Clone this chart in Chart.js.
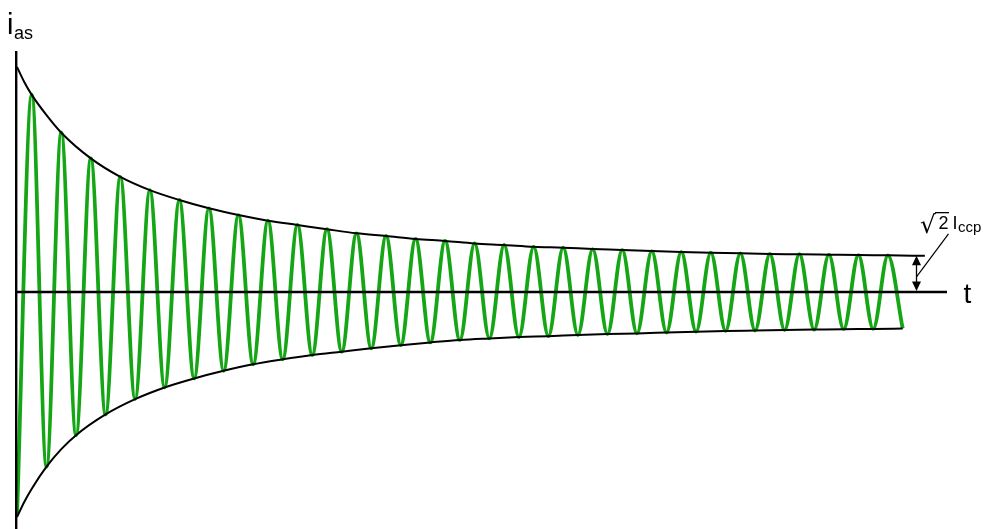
<!DOCTYPE html>
<html><head><meta charset="utf-8">
<script src="https://cdn.jsdelivr.net/npm/chart.js@4.4.1/dist/chart.umd.min.js"></script>
<style>html,body{margin:0;padding:0;background:#fff;overflow:hidden}canvas{display:block}</style>
</head><body>
<canvas id="c" width="983" height="529"></canvas>
<script>
// time of each current extremum (ms)
const extremaTime = [0,10,20,30,40,50,60,70,80,90,100,110,120,130,140,150,160,170,180,190,200,
  210,220,230,240,250,260,270,280,290,300,310,320,330,340,350,360,370,380,390,400,
  410,420,430,440,450,460,470,480,490,500,510,520,530,540,550,560,570,580,590,600];
// current value at each extremum (arbitrary units)
const extremaCurrent = [-9.92,8.76,-7.76,7.08,-6.36,5.94,-5.44,5.12,-4.76,4.53,-4.24,4.09,-3.84,3.72,-3.50,3.42,
  -3.21,3.17,-2.99,2.98,-2.80,2.79,-2.65,2.61,-2.50,2.49,-2.36,2.36,-2.24,2.27,-2.13,2.16,
  -2.06,2.09,-2.00,2.01,-1.96,1.97,-1.91,1.91,-1.87,1.87,-1.84,1.82,-1.80,1.78,-1.76,1.75,
  -1.73,1.72,-1.71,1.69,-1.69,1.68,-1.67,1.66,-1.65,1.64,-1.64,1.63,-1.62];
// upper envelope
const upperEnvTime = [0,5,10,20,30,50,70,90,110,130,150,170,190,210,230,250,270,290,310,330,350,370,390,
  410,430,450,470,490,510,530,550,570,590,615];
const upperEnvValue = [10.0,9.32,8.76,7.86,7.08,5.94,5.12,4.53,4.09,3.72,3.42,3.17,2.98,2.79,2.61,2.49,2.36,2.27,2.16,
  2.09,2.01,1.97,1.91,1.87,1.82,1.78,1.75,1.72,1.69,1.68,1.66,1.64,1.63,1.61];
// lower envelope
const lowerEnvTime = [0,5,10,20,30,40,60,80,100,120,140,160,180,200,220,240,260,280,300,320,340,360,380,400,
  420,440,460,480,500,520,540,560,580,600];
const lowerEnvValue = [-10.0,-9.32,-8.74,-7.76,-6.98,-6.36,-5.44,-4.76,-4.24,-3.84,-3.50,-3.21,-2.99,-2.80,-2.65,-2.50,-2.36,-2.24,-2.13,
  -2.06,-2.00,-1.96,-1.91,-1.87,-1.84,-1.80,-1.76,-1.73,-1.71,-1.69,-1.67,-1.65,-1.64,-1.62];
// axis range
const xRange = [0, 630];
const yRange = [-10.53, 10.71];
// annotation
const arrowTime = 609;
const steadyPeak = 1.61;
// texts
const yLabel = ['i', 'as'];
const xLabel = 't';
const peakLabel = ['\u221A', '2', 'I', 'ccp'];

const pts = (t, v) => t.map((tt, i) => ({x: tt, y: v[i]}));

const overlay = {
  id: 'overlay',
  afterDatasetsDraw(chart) {
    const {ctx, chartArea, scales: {x, y}} = chart;
    const x0 = x.getPixelForValue(0), y0 = y.getPixelForValue(0);
    ctx.save();
    ctx.strokeStyle = '#000';
    ctx.fillStyle = '#000';
    ctx.lineCap = 'butt';
    // vertical axis
    ctx.lineWidth = 2.4;
    ctx.beginPath(); ctx.moveTo(x0 - 0.8, chartArea.top); ctx.lineTo(x0 - 0.8, chartArea.bottom); ctx.stroke();
    // horizontal axis
    ctx.lineWidth = 2.6;
    ctx.beginPath(); ctx.moveTo(x0 - 2, y0); ctx.lineTo(chartArea.right, y0); ctx.stroke();
    // double arrow
    const ax = Math.round(x.getPixelForValue(arrowTime)) + 0.5;
    const ay = y.getPixelForValue(steadyPeak);
    ctx.lineWidth = 1.3;
    ctx.beginPath(); ctx.moveTo(ax, ay + 6); ctx.lineTo(ax, y0 - 6); ctx.stroke();
    ctx.beginPath(); ctx.moveTo(ax, ay); ctx.lineTo(ax - 4.5, ay + 9.5); ctx.lineTo(ax + 4.5, ay + 9.5); ctx.closePath(); ctx.fill();
    ctx.beginPath(); ctx.moveTo(ax, y0 - 1); ctx.lineTo(ax - 4.5, y0 - 10.5); ctx.lineTo(ax + 4.5, y0 - 10.5); ctx.closePath(); ctx.fill();
    // leader line
    ctx.lineWidth = 1.2;
    ctx.beginPath(); ctx.moveTo(ax, ay + 21); ctx.lineTo(ax + 32, ay - 22); ctx.stroke();
    // texts
    ctx.textBaseline = 'alphabetic';
    ctx.textAlign = 'left';
    ctx.font = '29px "Liberation Sans", Arial, sans-serif';
    ctx.fillText(yLabel[0], 7, 33.5);
    ctx.font = '18px "Liberation Sans", Arial, sans-serif';
    ctx.fillText(yLabel[1], 14, 38.5);
    ctx.font = '28px "Liberation Sans", Arial, sans-serif';
    ctx.fillText(xLabel, 963.5, 303);
    // sqrt(2) I_ccp : radical sized to span y 212..233
    ctx.font = '100px "DejaVu Sans", sans-serif';
    const m = ctx.measureText(peakLabel[0]);
    const h = m.actualBoundingBoxAscent + m.actualBoundingBoxDescent;
    const fs = 21 / h * 100;
    const top = 212;
    ctx.font = fs.toFixed(2) + 'px "DejaVu Sans", sans-serif';
    const m2 = ctx.measureText(peakLabel[0]);
    const gx = 920 + m2.actualBoundingBoxLeft;
    const gy = top + m2.actualBoundingBoxAscent;
    ctx.fillText(peakLabel[0], gx, gy);
    const rightEdge = gx + m2.actualBoundingBoxRight;
    ctx.lineWidth = 1.3;
    ctx.beginPath(); ctx.moveTo(rightEdge - 1, top + 0.65); ctx.lineTo(949, top + 0.65); ctx.stroke();
    ctx.font = '18px "Liberation Sans", Arial, sans-serif';
    ctx.fillText(peakLabel[1], 938.5, 228.5);
    ctx.fillText(peakLabel[2], 952.5, 228.5);
    ctx.font = '15px "Liberation Sans", Arial, sans-serif';
    ctx.fillText(peakLabel[3], 958, 232);
    ctx.restore();
  }
};

new Chart(document.getElementById('c'), {
  type: 'line',
  data: {
    datasets: [
      { data: pts(upperEnvTime, upperEnvValue), borderColor: '#000', borderWidth: 2, pointRadius: 0,
        cubicInterpolationMode: 'monotone', order: 1 },
      { data: pts(lowerEnvTime, lowerEnvValue), borderColor: '#000', borderWidth: 2, pointRadius: 0,
        cubicInterpolationMode: 'monotone', order: 1 },
      { data: pts(extremaTime, extremaCurrent), borderColor: '#14a614', borderWidth: 3.8, pointRadius: 0,
        cubicInterpolationMode: 'monotone', order: 2 }
    ]
  },
  options: {
    responsive: false,
    animation: false,
    devicePixelRatio: 1,
    layout: { padding: { left: 17, right: 36, top: 51, bottom: 0 } },
    plugins: { legend: { display: false }, tooltip: { enabled: false }, title: { display: false } },
    scales: {
      x: { type: 'linear', min: xRange[0], max: xRange[1], display: false },
      y: { type: 'linear', min: yRange[0], max: yRange[1], display: false }
    }
  },
  plugins: [overlay]
});
</script>
</body></html>
